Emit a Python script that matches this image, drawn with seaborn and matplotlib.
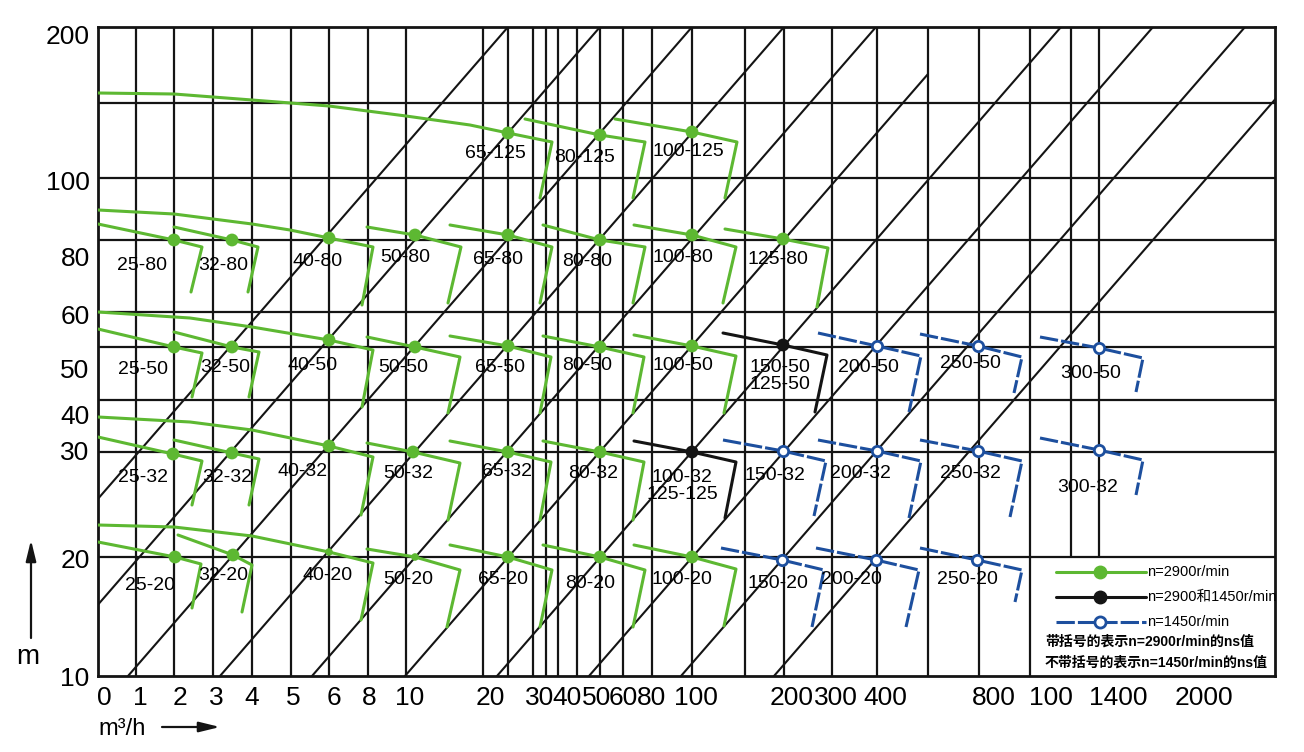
import pandas as pd
import matplotlib
matplotlib.use('Agg')
import matplotlib.pyplot as plt
import seaborn as sns

# The flow (x) and head (y) scales of this chart are not uniform, so
# everything sits in chart units: 0..1177 across, 0..649 up.

# grid
x_grid = [38, 76, 115, 154, 193, 231, 270, 308, 385, 410, 435, 448, 460, 479,
          502, 525, 554, 594, 647, 686, 734, 779, 830, 881, 932]
x_grid_short = [973, 1001]          # these stop at the legend box
y_grid = [573, 498, 436, 364, 329, 276, 224, 119]

x_tick_pos = [6, 42, 82, 118, 154, 195, 236, 271, 312, 392, 442, 469, 499,
              525, 553, 598, 694, 738, 787, 896, 953, 1020, 1106]
x_tick_labels = ['0', '1', '2', '3', '4', '5', '6', '8', '10', '20', '30', '40',
                 '50', '60', '80', '100', '200', '300', '400', '800', '100',
                 '1400', '2000']
y_tick_pos = [641, 495, 420, 361, 307, 262, 225, 117, 0]
y_tick_labels = ['200', '100', '80', '60', '50', '40', '30', '20', '10']

# ns lines (diagonals)
ns_x0 = [-154, -62, 30, 122, 214, 307, 399, 491, 583, 676]
ns_x1 = [410, 502, 594, 686, 778, 830, 963, 1055, 1147, 1240]
ns_y1 = [649, 649, 649, 649, 649, 602, 649, 649, 649, 649]

# pumps
pump_names = ['65-125', '80-125', '100-125',
              '25-80', '32-80', '40-80', '50-80', '65-80', '80-80', '100-80', '125-80',
              '25-50', '32-50', '40-50', '50-50', '65-50', '80-50', '100-50', '150-50',
              '200-50', '250-50', '300-50',
              '25-32', '32-32', '40-32', '50-32', '65-32', '80-32', '100-32', '150-32',
              '200-32', '250-32', '300-32',
              '25-20', '32-20', '40-20', '50-20', '65-20', '80-20', '100-20', '150-20',
              '200-20', '250-20']
pump_speed = (['2900'] * 3 + ['2900'] * 8 +
              ['2900'] * 7 + ['both'] + ['1450'] * 3 +
              ['2900'] * 6 + ['both'] + ['1450'] * 4 +
              ['2900'] * 7 + ['1450'] * 3)

curve_x = [
    [0, 76, 154, 231, 308, 372, 410, 454, 442], [427, 502, 547, 535], [517, 594, 639, 627],
    [0, 76, 104, 93], [76, 134, 160, 150], [0, 76, 154, 192, 231, 275, 264],
    [269, 317, 363, 350], [352, 410, 454, 442], [445, 502, 547, 535],
    [536, 594, 638, 625], [627, 685, 730, 719],
    [0, 76, 104, 94], [76, 134, 161, 151], [0, 92, 154, 231, 275, 264],
    [269, 317, 362, 350], [352, 410, 453, 442], [445, 502, 546, 535],
    [536, 594, 638, 626], [625, 685, 729, 717], [720, 779, 823, 811],
    [822, 880, 924, 916], [942, 1001, 1045, 1038],
    [0, 75, 104, 94], [76, 134, 161, 151], [0, 92, 154, 231, 275, 263],
    [269, 315, 362, 350], [352, 410, 453, 442], [445, 502, 546, 535],
    [536, 594, 638, 627], [625, 685, 728, 716], [720, 779, 823, 811],
    [822, 880, 924, 912], [942, 1001, 1045, 1038],
    [0, 77, 103, 94], [80, 135, 154, 144], [0, 76, 154, 231, 275, 263],
    [269, 317, 362, 349], [352, 410, 454, 442], [445, 502, 547, 535],
    [536, 594, 638, 626], [623, 684, 726, 714], [718, 778, 821, 808],
    [822, 879, 924, 917],
]
curve_y = [
    [583, 582, 576, 570, 560, 551, 543, 534, 478], [557, 541, 534, 478], [557, 544, 534, 478],
    [452, 436, 429, 384], [449, 436, 429, 384], [466, 462, 452, 446, 438, 429, 371],
    [449, 441, 429, 373], [451, 441, 429, 373], [451, 436, 429, 373],
    [451, 441, 429, 373], [447, 437, 428, 369],
    [347, 329, 323, 279], [344, 329, 324, 279], [364, 358, 349, 336, 326, 269],
    [339, 329, 319, 263], [340, 330, 319, 263], [340, 329, 319, 263],
    [341, 330, 320, 263], [343, 331, 321, 264], [343, 330, 320, 264],
    [342, 330, 319, 283], [339, 328, 318, 284],
    [239, 222, 215, 171], [236, 223, 217, 171], [259, 254, 246, 230, 219, 161],
    [233, 224, 213, 156], [235, 224, 214, 156], [235, 224, 214, 156],
    [235, 224, 214, 158], [236, 225, 215, 160], [236, 225, 215, 158],
    [236, 225, 215, 159], [238, 226, 216, 181],
    [134, 119, 112, 68], [141, 121, 111, 64], [151, 149, 140, 124, 113, 56],
    [127, 119, 106, 49], [131, 119, 106, 49], [131, 119, 106, 49],
    [131, 119, 107, 50], [128, 116, 106, 49], [128, 116, 106, 49],
    [128, 116, 106, 74],
]
duty_x = [410, 502, 594,
          76, 134, 231, 317, 410, 502, 594, 685,
          76, 134, 231, 317, 410, 502, 594, 685, 779, 880, 1001,
          75, 134, 231, 315, 410, 502, 594, 685, 779, 880, 1001,
          77, 135, 231, 317, 410, 502, 594, 684, 778, 879]
duty_y = [543, 541, 544,
          436, 436, 438, 441, 441, 436, 441, 437,
          329, 329, 336, 329, 330, 329, 330, 331, 330, 330, 328,
          222, 223, 230, 224, 224, 224, 224, 225, 225, 225, 226,
          119, 121, 124, 119, 119, 119, 119, 116, 116, 116]
small_dots = ['40-20', '50-20']

label_text = list(pump_names)
label_text[pump_names.index('150-50')] = '150-50\n125-50'
label_text[pump_names.index('100-32')] = '100-32\n125-125'
label_x = [397, 487, 590,
           44, 125, 220, 307, 400, 489, 585, 680,
           45, 127, 215, 305, 402, 489, 585, 682, 770, 872, 993,
           45, 129, 205, 310, 409, 495, 584, 677, 762, 872, 990,
           52, 125, 230, 310, 405, 492, 584, 680, 753, 869]
label_y = [523, 519, 524,
           411, 411, 415, 418, 416, 414, 419, 416,
           306, 308, 311, 308, 308, 310, 311, 300, 308, 312, 303,
           199, 199, 204, 202, 204, 202, 190, 201, 202, 202, 188,
           90, 101, 101, 97, 97, 93, 96, 92, 96, 96]

legend_labels = ['n=2900r/min', 'n=2900和1450r/min', 'n=1450r/min']
legend_speed = ['2900', 'both', '1450']
note_lines = ['带括号的表示n=2900r/min的ns值', '不带括号的表示n=1450r/min的ns值']

green = '#5db832'
blue = '#1d4f9e'
black = '#141414'
speed_colors = {'2900': green, 'both': black, '1450': blue}
speed_dashes = {'2900': '', 'both': '', '1450': (6, 1)}

rows = []
for name, speed, xs, ys in zip(pump_names, pump_speed, curve_x, curve_y):
    for i, (x, y) in enumerate(zip(xs, ys)):
        rows.append({'pump': name, 'speed': speed, 'x': x, 'y': y, 'i': i})
curves = pd.DataFrame(rows)
duty = pd.DataFrame({'pump': pump_names, 'speed': pump_speed, 'x': duty_x, 'y': duty_y})

sns.set_style('white')
plt.rcParams['font.family'] = ['Liberation Sans', 'Noto Sans CJK SC', 'DejaVu Sans']
plt.rcParams['text.color'] = 'black'

fig = plt.figure(figsize=(13.04, 7.52), dpi=100)
ax = fig.add_axes([98 / 1304, 76 / 752, 1177 / 1304, 649 / 752])
ax.set_xlim(0, 1177)
ax.set_ylim(0, 649)

# grid and ns lines
ax.vlines(x_grid, 0, 649, color=black, lw=1.6, zorder=1)
ax.vlines(x_grid_short, 119, 649, color=black, lw=1.6, zorder=1)
ax.hlines(y_grid, 0, 1177, color=black, lw=1.6, zorder=1)
for x0, x1, y1 in zip(ns_x0, ns_x1, ns_y1):
    ax.plot([x0, x1], [0, y1], color=black, lw=1.5, zorder=1)

# pump curves
sns.lineplot(data=curves, x='x', y='y', hue='speed', style='speed', units='pump',
             estimator=None, sort=False, palette=speed_colors, dashes=speed_dashes,
             linewidth=2.2, legend=False, ax=ax, zorder=3)

big = duty[~duty['pump'].isin(small_dots)]
filled = big[big['speed'] != '1450']
sns.scatterplot(data=filled, x='x', y='y', hue='speed', palette=speed_colors, s=85,
                edgecolor='none', legend=False, ax=ax, zorder=4)
sns.scatterplot(data=duty[duty['pump'].isin(small_dots)], x='x', y='y', color=green,
                s=30, edgecolor='none', legend=False, ax=ax, zorder=4)
sns.scatterplot(data=duty[duty['speed'] == '1450'], x='x', y='y', color='white',
                edgecolor=blue, linewidth=2, s=55, legend=False, ax=ax, zorder=4)

for t, x, y in zip(label_text, label_x, label_y):
    ax.text(x, y, t, ha='center', va='center', fontsize=14, linespacing=1.05,
            color='black', zorder=5)

# legend box in the lower right cell
for k, (lab, sp) in enumerate(zip(legend_labels, legend_speed)):
    y = 104 - 25 * k
    ax.plot([958, 1048], [y, y], color=speed_colors[sp], lw=2.2,
            dashes=speed_dashes[sp] or (None, None), zorder=3)
    if sp == '1450':
        ax.plot(1002, y, 'o', ms=8, mfc='white', mec=blue, mew=2, zorder=4)
    else:
        ax.plot(1002, y, 'o', ms=9, color=speed_colors[sp], zorder=4)
    ax.text(1049, y, lab, fontsize=10.5, va='center', ha='left', color='black')
for k, t in enumerate(note_lines):
    ax.text(947, 34 - 21 * k, t, fontsize=10, fontweight='bold', va='center', ha='left',
            color='black')

ax.set_xticks(x_tick_pos)
ax.set_xticklabels(x_tick_labels)
ax.set_yticks(y_tick_pos)
ax.set_yticklabels(y_tick_labels)
ax.tick_params(axis='both', length=0, labelsize=19, colors='black')
ax.tick_params(axis='x', pad=7)
ax.tick_params(axis='y', pad=6)
ax.set_xlabel('')
ax.set_ylabel('')
for s in ax.spines.values():
    s.set_linewidth(2)
    s.set_color(black)

# axis names with arrows
arrow = dict(arrowstyle='-|>,head_length=0.9,head_width=0.22', color=black, lw=1.6,
             mutation_scale=14, shrinkA=0, shrinkB=0)
ax.annotate('', xy=(-67, 136), xytext=(-67, 38), arrowprops=arrow, annotation_clip=False)
ax.text(-70, 19, 'm', fontsize=20, ha='center', va='center', color='black')
ax.annotate('', xy=(122, -51), xytext=(64, -51), arrowprops=arrow, annotation_clip=False)
ax.text(0, -53, 'm³/h', fontsize=17, ha='left', va='center', color='black')

fig.savefig('out.png', dpi=100)
